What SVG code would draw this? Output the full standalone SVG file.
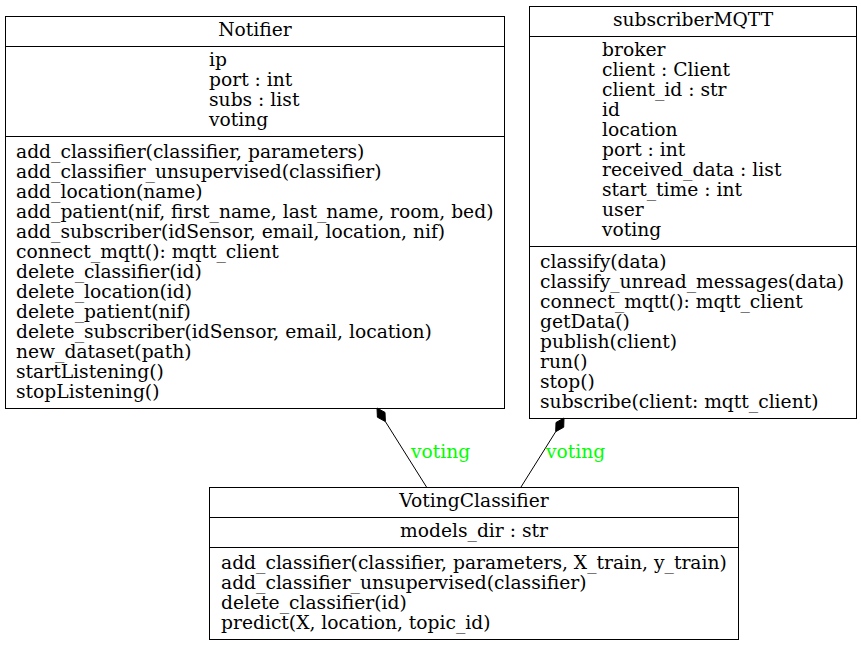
<svg xmlns="http://www.w3.org/2000/svg" width="861" height="645" viewBox="0 0 861 645">
<style>
text{font-family:"DejaVu Serif",serif;font-size:18.7px;fill:#000}
.c{text-anchor:middle}
.box{fill:#fff;stroke:#000;stroke-width:1}
.sep{stroke:#000;stroke-width:1}
.edge{stroke:#000;stroke-width:1;fill:none}
.dia{fill:#000;stroke:#000;stroke-width:1}
.lbl{fill:#00ff00}
</style>
<rect width="861" height="645" fill="#fff"/>
<g id="Notifier">
<rect class="box" x="5.5" y="16.5" width="499" height="392"/>
<line class="sep" x1="5.5" y1="46.5" x2="504.5" y2="46.5"/>
<line class="sep" x1="5.5" y1="136.5" x2="504.5" y2="136.5"/>
<text class="c" x="255" y="36">Notifier</text>
<text x="209" y="66">ip</text>
<text x="209" y="86">port : int</text>
<text x="209" y="106">subs : list</text>
<text x="209" y="126">voting</text>
<text x="16" y="158">add_classifier(classifier, parameters)</text>
<text x="16" y="178">add_classifier_unsupervised(classifier)</text>
<text x="16" y="198">add_location(name)</text>
<text x="16" y="218">add_patient(nif, first_name, last_name, room, bed)</text>
<text x="16" y="238">add_subscriber(idSensor, email, location, nif)</text>
<text x="16" y="258">connect_mqtt(): mqtt_client</text>
<text x="16" y="278">delete_classifier(id)</text>
<text x="16" y="298">delete_location(id)</text>
<text x="16" y="318">delete_patient(nif)</text>
<text x="16" y="338">delete_subscriber(idSensor, email, location)</text>
<text x="16" y="358">new_dataset(path)</text>
<text x="16" y="378">startListening()</text>
<text x="16" y="398">stopListening()</text>
</g>
<g id="subscriberMQTT">
<rect class="box" x="529.5" y="6.5" width="327" height="412"/>
<line class="sep" x1="529.5" y1="36.5" x2="856.5" y2="36.5"/>
<line class="sep" x1="529.5" y1="246.5" x2="856.5" y2="246.5"/>
<text class="c" x="693" y="26">subscriberMQTT</text>
<text x="602" y="56">broker</text>
<text x="602" y="76">client : Client</text>
<text x="602" y="96">client_id : str</text>
<text x="602" y="116">id</text>
<text x="602" y="136">location</text>
<text x="602" y="156">port : int</text>
<text x="602" y="176">received_data : list</text>
<text x="602" y="196">start_time : int</text>
<text x="602" y="216">user</text>
<text x="602" y="236">voting</text>
<text x="540" y="268">classify(data)</text>
<text x="540" y="288">classify_unread_messages(data)</text>
<text x="540" y="308">connect_mqtt(): mqtt_client</text>
<text x="540" y="328">getData()</text>
<text x="540" y="348">publish(client)</text>
<text x="540" y="368">run()</text>
<text x="540" y="388">stop()</text>
<text x="540" y="408">subscribe(client: mqtt_client)</text>
</g>
<g id="VotingClassifier">
<rect class="box" x="209.5" y="487.5" width="529" height="152"/>
<line class="sep" x1="209.5" y1="517.5" x2="738.5" y2="517.5"/>
<line class="sep" x1="209.5" y1="547.5" x2="738.5" y2="547.5"/>
<text class="c" x="474" y="507">VotingClassifier</text>
<text class="c" x="474" y="537">models_dir : str</text>
<text x="221" y="569">add_classifier(classifier, parameters, X_train, y_train)</text>
<text x="221" y="589">add_classifier_unsupervised(classifier)</text>
<text x="221" y="609">delete_classifier(id)</text>
<text x="221" y="629">predict(X, location, topic_id)</text>
</g>
<g id="connectors">
<path class="edge" d="M426.5,487 L385.4,421.6"/>
<polygon class="dia" points="377,408 385,412.4 385.4,421.6 377.4,417.2"/>
<text class="lbl" x="411" y="458">voting</text>
<path class="edge" d="M521,487 L555.7,431.7"/>
<polygon class="dia" points="564,418 563.7,427.2 555.7,431.7 556,422.5"/>
<text class="lbl" x="546" y="458">voting</text>
</g>
</svg>
